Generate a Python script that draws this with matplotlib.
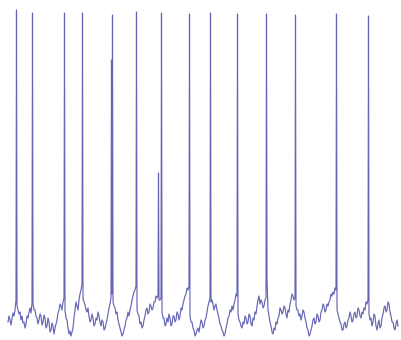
import numpy as np
import matplotlib
matplotlib.use("Agg")
import matplotlib.pyplot as plt

# Sub-threshold membrane trace, one sample per time step starting at t = 8
# (level = height above the bottom of the panel)
base_start = 8
base_v = [18, 24, 20, 15, 22, 27, 24, 30, 40,
          35, 30, 26, 28, 20, 24, 17, 18, 12, 16, 24, 22, 28, 32, 27, 37,
          36, 30, 30, 24, 22, 16, 20, 26, 24, 15, 18, 25, 22, 12, 14, 22, 18, 8, 10, 17,
          14, 6, 12, 16, 20, 27, 30, 36, 34, 30, 38, 42,
          30, 22, 20, 12, 6, 9, 4, 8, 12, 22, 30, 38, 34, 30, 40, 46, 50, 56,
          42, 38, 35, 30, 28, 32, 24, 18, 20, 26, 22, 14, 16, 22, 20, 28, 24, 18, 14, 20,
          18, 10, 12, 16, 20, 26, 32, 36, 42, 46,
          38, 34, 32, 26, 28, 20, 16, 12, 8, 4, 6, 10, 14, 20, 22, 28, 24, 30, 34, 40,
          44, 48, 50, 54,
          30, 26, 24, 16, 18, 12, 14, 20, 24, 30, 32, 26, 28, 36, 34, 30, 32, 38, 38, 44,
          42, 44,
          40, 40, 42,
          28, 22, 22, 14, 16, 22, 18, 26, 22, 14, 16, 24, 24, 18, 20, 28, 26, 20, 24, 32,
          30, 36, 40, 44, 46, 52, 50, 54,
          24, 18, 18, 12, 10, 4, 6, 10, 12, 8, 14, 20, 18, 12, 14, 20, 22, 28, 34, 38, 42,
          38, 40, 36, 30, 34, 36, 30, 26, 22, 16, 14, 10, 8, 4, 6, 12, 16, 22, 24, 30,
          28, 34, 30, 36, 40, 46, 44,
          26, 20, 18, 14, 12, 18, 16, 24, 22, 16, 18, 26, 24, 16, 14, 22, 20, 28, 26, 34,
          40, 44, 36, 40, 38, 32, 34, 40, 42,
          60, 30, 24, 18, 14, 8, 6, 12, 10, 18, 16, 22, 24, 32, 30, 26, 28, 34, 32, 26,
          22, 30, 28, 36, 40, 46, 44, 40, 42,
          34, 30, 30, 24, 26, 20, 24, 30, 28, 22, 18, 12, 10, 4, 6, 10, 14, 20, 22, 16,
          18, 26, 24, 18, 20, 28, 30, 36, 34, 28, 30, 36, 34, 38, 40, 46, 44, 48, 46, 52, 50,
          30, 26, 22, 18, 16, 10, 10, 16, 18, 12, 14, 20, 22, 28, 24, 18, 20, 26, 28, 22,
          24, 32, 30, 24, 22, 28, 26, 32, 30, 38, 36, 40,
          26, 20, 22, 14, 18, 26, 24, 14, 10, 16, 20, 12, 14, 22, 26, 32, 34, 28, 30, 38,
          36, 28, 24, 18, 18, 12, 10, 16, 20, 14]

# Action potentials: time and peak level
spike_t = [16.5, 32.5, 64.5, 82.5, 111.5, 112.5, 136.5, 158.5, 161.5, 189.5,
           210.5, 237.5, 266.5, 295.5, 336.5, 368.5]
spike_v = [330, 327, 327, 327, 280, 325, 328, 167, 327, 326,
           327, 326, 326, 325, 326, 324]

base_t = np.arange(base_start, base_start + len(base_v))
t = np.concatenate([base_t, np.array(spike_t)]).astype(float)
v = np.concatenate([np.array(base_v), np.array(spike_v)]).astype(float)
order = np.argsort(t, kind="stable")
t, v = t[order], v[order]

fig = plt.figure(figsize=(4.01, 3.40), dpi=100)
ax = fig.add_axes([0, 0, 1, 1])
ax.plot(t, v, color="#2b2b9a", lw=0.85, alpha=0.72)
ax.set_xlim(0, 401)
ax.set_ylim(0, 340)
ax.axis("off")
fig.savefig("out.png", dpi=100)
